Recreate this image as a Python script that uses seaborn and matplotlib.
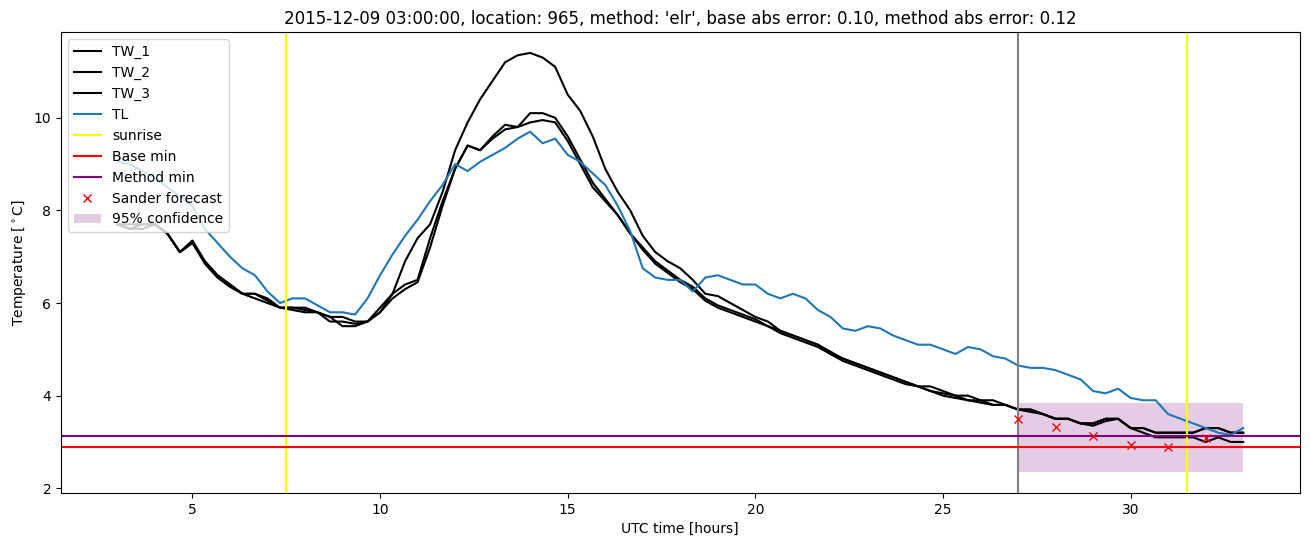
import numpy as np
import pandas as pd
import matplotlib
matplotlib.use("Agg")
import matplotlib.pyplot as plt
import seaborn as sns

# Sensor readings, every 20 minutes from 03:00 (hour 3) to hour 33
start_hour = 3.0
step_hours = 1 / 3

tw_1 = [7.7, 7.6, 7.7, 7.7, 7.5, 7.1, 7.35, 6.9, 6.6, 6.4, 6.2, 6.2,
        6.1, 5.9, 5.9, 5.9, 5.8, 5.7, 5.7, 5.6, 5.6, 5.9, 6.2, 6.9,
        7.4, 7.7, 8.4, 9.3, 9.9, 10.4, 10.8, 11.2, 11.35, 11.4, 11.3, 11.1,
        10.5, 10.15, 9.6, 8.9, 8.4, 8.0, 7.45, 7.1, 6.9, 6.75, 6.5, 6.2,
        6.15, 6.0, 5.85, 5.7, 5.6, 5.4, 5.3, 5.2, 5.1, 4.95, 4.8, 4.7,
        4.6, 4.5, 4.4, 4.3, 4.2, 4.2, 4.1, 4.0, 4.0, 3.9, 3.9, 3.8,
        3.7, 3.7, 3.6, 3.5, 3.5, 3.4, 3.4, 3.5, 3.5, 3.3, 3.3, 3.2,
        3.2, 3.2, 3.2, 3.3, 3.3, 3.2, 3.2]

tw_2 = [7.7, 7.7, 7.7, 7.7, 7.5, 7.1, 7.3, 6.9, 6.6, 6.4, 6.2, 6.2,
        6.05, 5.9, 5.9, 5.85, 5.8, 5.6, 5.6, 5.55, 5.6, 5.8, 6.2, 6.4,
        6.5, 7.4, 8.2, 8.9, 9.4, 9.3, 9.6, 9.85, 9.8, 10.1, 10.1, 10.0,
        9.6, 9.1, 8.6, 8.25, 7.9, 7.5, 7.2, 6.9, 6.7, 6.5, 6.35, 6.1,
        5.95, 5.85, 5.75, 5.65, 5.5, 5.4, 5.3, 5.2, 5.1, 4.9, 4.8, 4.7,
        4.6, 4.5, 4.4, 4.3, 4.2, 4.1, 4.05, 4.0, 3.9, 3.9, 3.8, 3.8,
        3.7, 3.7, 3.6, 3.5, 3.5, 3.4, 3.4, 3.5, 3.5, 3.3, 3.3, 3.2,
        3.2, 3.2, 3.2, 3.3, 3.3, 3.2, 3.2]

tw_3 = [7.7, 7.6, 7.6, 7.7, 7.5, 7.1, 7.3, 6.85, 6.55, 6.35, 6.2, 6.1,
        6.0, 5.9, 5.85, 5.8, 5.8, 5.7, 5.5, 5.5, 5.6, 5.8, 6.1, 6.3,
        6.45, 7.2, 8.1, 8.9, 9.4, 9.3, 9.55, 9.75, 9.8, 9.9, 9.95, 9.9,
        9.5, 9.0, 8.5, 8.2, 7.9, 7.5, 7.15, 6.85, 6.65, 6.45, 6.3, 6.05,
        5.9, 5.8, 5.7, 5.6, 5.5, 5.35, 5.25, 5.15, 5.05, 4.9, 4.75, 4.65,
        4.55, 4.45, 4.35, 4.25, 4.2, 4.1, 4.0, 3.95, 3.9, 3.85, 3.8, 3.8,
        3.7, 3.65, 3.6, 3.5, 3.5, 3.4, 3.35, 3.45, 3.5, 3.3, 3.2, 3.1,
        3.1, 3.1, 3.1, 3.0, 3.1, 3.0, 3.0]

tl = [9.05, 9.0, 8.85, 8.7, 8.5, 8.3, 8.1, 7.6, 7.3, 7.0, 6.75, 6.6,
      6.25, 6.0, 6.1, 6.1, 5.95, 5.8, 5.8, 5.75, 6.1, 6.6, 7.05, 7.45,
      7.8, 8.2, 8.55, 9.0, 8.85, 9.05, 9.2, 9.35, 9.55, 9.7, 9.45, 9.55,
      9.2, 9.05, 8.8, 8.55, 8.1, 7.55, 6.75, 6.55, 6.5, 6.5, 6.25, 6.55,
      6.6, 6.5, 6.4, 6.4, 6.2, 6.1, 6.2, 6.1, 5.85, 5.7, 5.45, 5.4,
      5.5, 5.45, 5.3, 5.2, 5.1, 5.1, 5.0, 4.9, 5.05, 5.0, 4.85, 4.8,
      4.65, 4.6, 4.6, 4.55, 4.45, 4.35, 4.1, 4.05, 4.15, 3.95, 3.9, 3.9,
      3.6, 3.5, 3.4, 3.3, 3.2, 3.15, 3.3]

# Forecast values and markers
forecast_hours = [27, 28, 29, 30, 31, 32]
forecast_temps = [3.5, 3.33, 3.12, 2.94, 2.9, 3.09]
conf_hours = [27, 33]
conf_low = [2.35, 2.35]
conf_high = [3.85, 3.85]

sunrise_hours = [7.5, 31.5]
forecast_start = 27
base_min = 2.9
method_min = 3.12

hours = start_hour + np.arange(len(tl)) * step_hours
df = pd.DataFrame({"hours": hours, "TW_1": tw_1, "TW_2": tw_2, "TW_3": tw_3, "TL": tl})

fig, ax = plt.subplots(figsize=(13.1, 5.47), dpi=100)
for col in ["TW_1", "TW_2", "TW_3"]:
    sns.lineplot(data=df, x="hours", y=col, color="black", label=col, ax=ax)
sns.lineplot(data=df, x="hours", y="TL", color="#1f77b4", label="TL", ax=ax)

ax.axvline(forecast_start, color="grey")
ax.axvline(sunrise_hours[0], color="yellow", label="sunrise")
ax.axvline(sunrise_hours[1], color="yellow")
ax.axhline(base_min, color="red", label="Base min")
ax.axhline(method_min, color="purple", label="Method min")
ax.plot(forecast_hours, forecast_temps, "x", color="red", label="Sander forecast")
ax.fill_between(conf_hours, conf_low, conf_high, color="purple", alpha=0.2,
                linewidth=0, label="95% confidence")

ax.set_title("2015-12-09 03:00:00, location: 965, method: 'elr', "
             "base abs error: 0.10, method abs error: 0.12")
ax.set_xlabel("UTC time [hours]")
ax.set_ylabel(r"Temperature [$^\circ$C]")
ax.legend(loc="upper left")

plt.subplots_adjust(left=0.0466, right=0.992, top=0.9415, bottom=0.0987)
plt.savefig("out.png")
